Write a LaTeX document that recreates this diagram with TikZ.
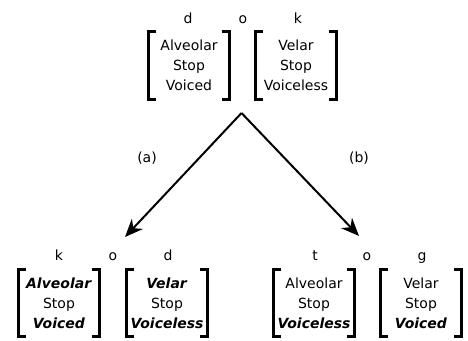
\documentclass[tikz,border=0pt]{standalone}
\usepackage{fontspec}
\setmainfont{DejaVu Sans}
\usetikzlibrary{arrows.meta}
\tikzset{
    feat/.style={minimum width=81pt,minimum height=67pt,inner sep=0pt,align=center,
        font=\fontsize{14}{20}\selectfont},
    seg/.style={inner sep=0pt,anchor=base,font=\fontsize{14}{17}\selectfont},
    brk/.style={line width=3pt},
    deriv/.style={line width=2pt,-{Stealth[length=18pt,width=15pt]}}
}
% changed feature values
\newcommand{\chg}[1]{\textbf{\textit{#1}}}

\begin{document}
\begin{tikzpicture}[x=1pt,y=-1pt]
    \useasboundingbox (0,0) rectangle (468,340);
    % input: d o k
    \node [seg] (d0) at (188,23) {d};
    \node [seg] (o0) at (243,23) {o};
    \node [seg] (k0) at (298,23) {k};
    \node [feat] (tl) at (189,65.5) {Alveolar\\Stop\\Voiced};
    \node [feat] (tr) at (296,65.5) {Velar\\Stop\\Voiceless};
    % (a): k o d
    \node [seg] (k1) at (59,260) {k};
    \node [seg] (o1) at (113,260) {o};
    \node [seg] (d1) at (168,260) {d};
    \node [feat] (al) at (59,303) {\chg{Alveolar}\\Stop\\\chg{Voiced}};
    \node [feat] (ar) at (167,303) {\chg{Velar}\\Stop\\\chg{Voiceless}};
    % (b): t o g
    \node [seg] (t2) at (315,260) {t};
    \node [seg] (o2) at (367,260) {o};
    \node [seg] (g2) at (422,260) {g};
    \node [feat] (bl) at (314,303) {Alveolar\\Stop\\\chg{Voiceless}};
    \node [feat] (br) at (421,303) {Velar\\Stop\\\chg{Voiced}};
    % brackets round each feature bundle
    \foreach \n in {tl,tr,al,ar,bl,br} {
        \draw [brk] ([xshift=8pt]\n.north west) -| (\n.south west) -- ++(8pt,0);
        \draw [brk] ([xshift=-8pt]\n.north east) -| (\n.south east) -- ++(-8pt,0);
    }
    % the two derivations
    \coordinate (apex) at (241.5,113);
    \coordinate (tipa) at (125,237);
    \coordinate (tipb) at (359,236);
    \draw [deriv] (apex) -- (tipa);
    \draw [deriv] (apex) -- (tipb);
    \node [seg] (la) at (147,162) {(a)};
    \node [seg] (lb) at (359,162) {(b)};
\end{tikzpicture}
\end{document}
